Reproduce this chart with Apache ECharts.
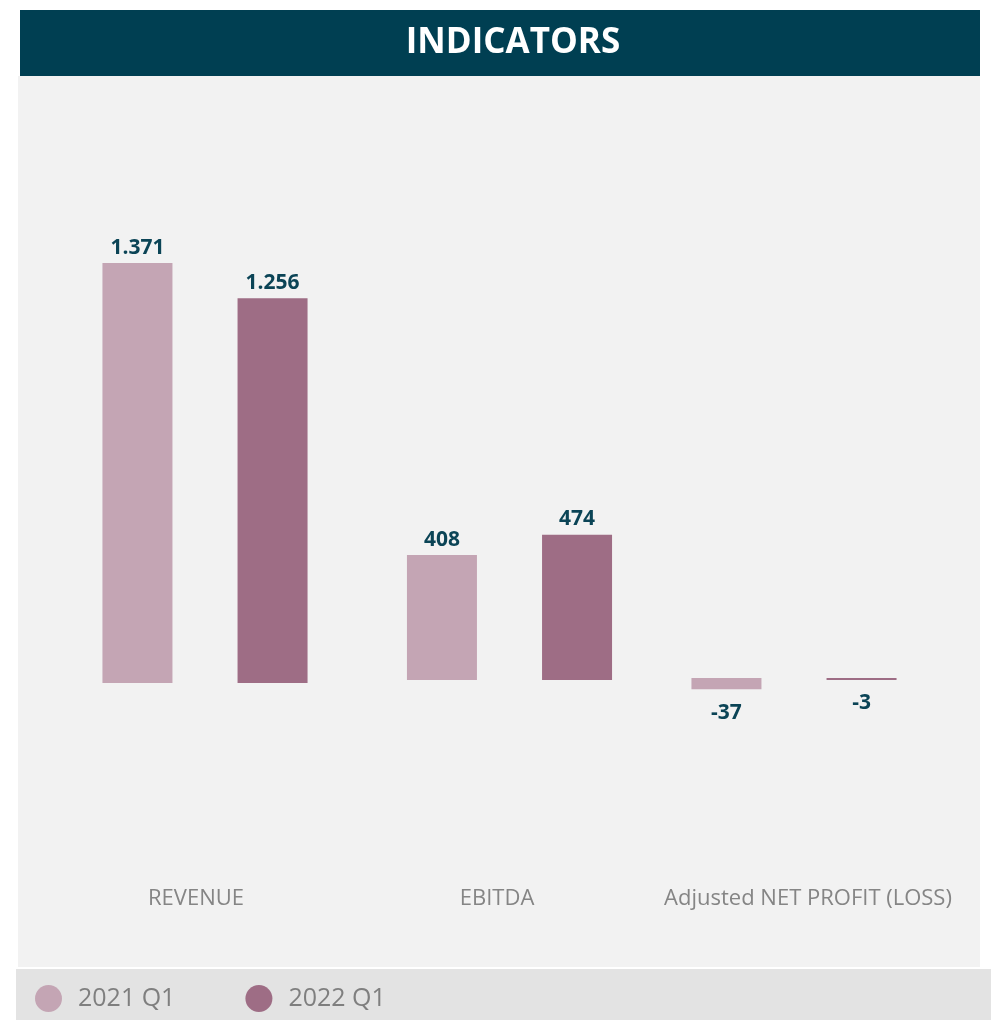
<!DOCTYPE html>
<html>
<head>
<meta charset="utf-8">
<title>Indicators</title>
<script src="https://cdn.jsdelivr.net/npm/echarts@6/dist/echarts.min.js"></script>
<style>
    html, body { margin: 0; padding: 0; background: #ffffff; }
    #main { width: 991px; height: 1020px; }
</style>
</head>
<body>
<div id="main"></div>
<script>
'use strict';

var categories = ['REVENUE', 'EBITDA', 'Adjusted NET PROFIT (LOSS)'];
var seriesNames = ['2021 Q1', '2022 Q1'];
var values2021 = [1371, 408, -37];
var values2022 = [1256, 474, -3];
var colors = ['#c4a5b4', '#9e6d85'];

// each indicator sits in its own little panel, like the original
var panelCenter = [205, 509.5, 794];
var panelBase = [683, 680, 678];
var labelShift = [-9, -12.5, 14];

var pxPerUnit = 0.3063;
var yMin = -650;
var yMax = 1500;

// thousands with a dot, e.g. 1.371
function fmt(v) {
    var s = String(Math.abs(v)).replace(/\B(?=(\d{3})+(?!\d))/g, '.');
    return (v < 0 ? '-' : '') + s;
}

var myChart = echarts.init(document.getElementById('main'));

var grids = [], xAxes = [], yAxes = [], series = [];

categories.forEach(function(cat, i) {
    var top = panelBase[i] - yMax * pxPerUnit;
    var bottom = panelBase[i] - yMin * pxPerUnit;
    grids.push({
        left: panelCenter[i] - 147.5,
        width: 295,
        top: top,
        height: bottom - top
    });
    var s = labelShift[i];
    xAxes.push({
        type: 'category',
        gridIndex: i,
        data: [cat],
        axisLine: { show: false, onZero: false },
        axisTick: { show: false },
        axisLabel: {
            color: '#858585',
            fontSize: 22,
            fontFamily: 'Open Sans',
            margin: 888 - bottom,
            interval: 0,
            padding: s < 0 ? [0, -2 * s, 0, 0] : [0, 0, 0, 2 * s]
        }
    });
    yAxes.push({
        type: 'value',
        gridIndex: i,
        min: yMin,
        max: yMax,
        show: false,
        splitLine: { show: false }
    });
    [values2021, values2022].forEach(function(vals, k) {
        var v = vals[i];
        series.push({
            name: seriesNames[k],
            type: 'bar',
            xAxisIndex: i,
            yAxisIndex: i,
            barWidth: 70,
            barGap: '93%',
            barMinHeight: 2,
            itemStyle: { color: colors[k] },
            label: {
                show: true,
                position: v < 0 ? 'bottom' : 'top',
                distance: v < 0 ? 13 : 5,
                color: '#0b4456',
                fontSize: 21,
                fontWeight: 'bold',
                fontFamily: 'Open Sans',
                formatter: function(p) { return fmt(p.value); }
            },
            data: [v]
        });
    });
});

var option = {
    backgroundColor: '#ffffff',
    animation: false,
    graphic: [
        { type: 'rect', z: -10, shape: { x: 18, y: 76, width: 962, height: 891 }, style: { fill: '#f2f2f2' } },
        { type: 'rect', z: -10, shape: { x: 20, y: 10, width: 960, height: 66 }, style: { fill: '#003f52' } },
        { type: 'rect', z: -10, shape: { x: 16, y: 969, width: 975, height: 51 }, style: { fill: '#e3e3e3' } },
        {
            type: 'text', x: 513, y: 43,
            style: {
                text: 'INDICATORS', fill: '#ffffff',
                font: 'bold 35px "Open Sans"',
                textAlign: 'center', textVerticalAlign: 'middle'
            }
        }
    ],
    legend: {
        data: seriesNames,
        left: 30,
        top: 980,
        icon: 'circle',
        itemWidth: 27,
        itemHeight: 27,
        itemGap: 70,
        textStyle: { color: '#7f7f7f', fontSize: 25, fontFamily: 'Open Sans', padding: [0, 0, 0, 11] }
    },
    grid: grids,
    xAxis: xAxes,
    yAxis: yAxes,
    series: series
};

myChart.setOption(option);
</script>
</body>
</html>
